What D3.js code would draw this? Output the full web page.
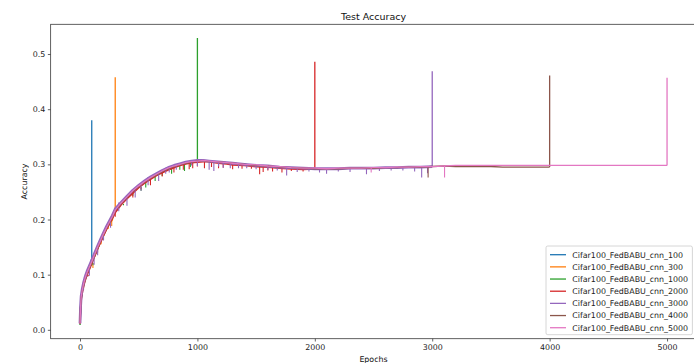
<!DOCTYPE html>
<html>
<head>
<meta charset="utf-8">
<script src="https://cdn.jsdelivr.net/npm/d3@7"></script>
<style>
  html, body { margin: 0; padding: 0; background: #fff; }
  svg { display: block; font-family: "DejaVu Sans", sans-serif; }
</style>
</head>
<body>
<div id="chart"></div>
<script>
// sampled epochs shared by every run
const epochs = [0, 5, 10, 20, 30, 40, 50, 60, 80, 100,
  125, 150, 175, 200, 225, 250, 275, 300,
  350, 400, 450, 500, 550, 600, 650, 700, 750, 800, 850, 900, 950, 1000, 1050, 1100, 1150, 1200, 1250, 1300,
  1400, 1500, 1600, 1700, 1800, 1900, 2000, 2100, 2200, 2300, 2400, 2500, 2600, 2700, 2800, 2900, 3000,
  3100, 3200, 3300, 3400, 3500, 3600, 3700, 3800, 3900, 4000, 4100, 4200, 4300, 4400, 4500, 4600, 4700, 4800, 4900, 5000];

const runNames = ["Cifar100_FedBABU_cnn_100", "Cifar100_FedBABU_cnn_300", "Cifar100_FedBABU_cnn_1000",
  "Cifar100_FedBABU_cnn_2000", "Cifar100_FedBABU_cnn_3000", "Cifar100_FedBABU_cnn_4000", "Cifar100_FedBABU_cnn_5000"];
const runEpochs = [100, 300, 1000, 2000, 3000, 4000, 5000];
const colors = ["#1f77b4", "#ff7f0e", "#2ca02c", "#d62728", "#9467bd", "#8c564b", "#e377c2"];
// the 3000 run jitters every epoch, so it reads as a wider band
const widths = [1.4, 1.4, 1.5, 1.8, 2.8, 1.4, 1.3];

// accuracy at the sampled epochs
const acc100 = [0.010, 0.040, 0.058, 0.072, 0.082, 0.090, 0.097, 0.103, 0.113, 0.129];
const acc300 = [0.012, 0.038, 0.057, 0.071, 0.081, 0.089, 0.096, 0.102, 0.112, 0.121,
  0.134, 0.147, 0.159, 0.171, 0.182, 0.192, 0.199, 0.222];
const acc1000 = [0.009, 0.039, 0.056, 0.070, 0.080, 0.088, 0.095, 0.101, 0.111, 0.121,
  0.134, 0.147, 0.160, 0.172, 0.183, 0.193, 0.203, 0.214,
  0.228, 0.239, 0.249, 0.259, 0.267, 0.274, 0.280, 0.286, 0.291, 0.295, 0.299, 0.302, 0.304, 0.306];
const acc2000 = [0.011, 0.037, 0.055, 0.069, 0.079, 0.087, 0.094, 0.100, 0.110, 0.121,
  0.134, 0.147, 0.159, 0.171, 0.182, 0.192, 0.202, 0.213,
  0.227, 0.238, 0.248, 0.258, 0.266, 0.273, 0.280, 0.285, 0.290, 0.294, 0.298, 0.301, 0.303, 0.304, 0.305, 0.305, 0.303, 0.302, 0.301, 0.299,
  0.298, 0.296, 0.295, 0.293, 0.292, 0.291, 0.292];
const acc3000 = [0.012, 0.043, 0.061, 0.075, 0.085, 0.093, 0.100, 0.106, 0.116, 0.126,
  0.139, 0.152, 0.164, 0.176, 0.187, 0.197, 0.207, 0.219,
  0.231, 0.242, 0.253, 0.262, 0.270, 0.277, 0.283, 0.289, 0.294, 0.298, 0.301, 0.304, 0.306, 0.307, 0.307, 0.306, 0.305, 0.304, 0.303, 0.302,
  0.300, 0.298, 0.297, 0.295, 0.294, 0.293, 0.292, 0.292, 0.292, 0.293, 0.293, 0.293, 0.294, 0.294, 0.295, 0.295, 0.296];
const acc4000 = [0.011, 0.041, 0.059, 0.072, 0.082, 0.090, 0.097, 0.103, 0.113, 0.123,
  0.136, 0.149, 0.161, 0.173, 0.184, 0.194, 0.204, 0.216,
  0.229, 0.240, 0.251, 0.260, 0.268, 0.275, 0.281, 0.287, 0.292, 0.296, 0.299, 0.302, 0.304, 0.306, 0.306, 0.305, 0.305, 0.304, 0.303, 0.302,
  0.300, 0.298, 0.297, 0.295, 0.294, 0.293, 0.292, 0.292, 0.292, 0.293, 0.293, 0.293, 0.294, 0.294, 0.295, 0.295, 0.296,
  0.297, 0.296, 0.296, 0.296, 0.296, 0.295, 0.295, 0.295, 0.295, 0.295];
const acc5000 = [0.011, 0.042, 0.060, 0.073, 0.083, 0.091, 0.098, 0.104, 0.114, 0.124,
  0.137, 0.150, 0.162, 0.174, 0.185, 0.195, 0.205, 0.217,
  0.230, 0.241, 0.252, 0.261, 0.269, 0.276, 0.282, 0.288, 0.293, 0.297, 0.300, 0.303, 0.305, 0.306, 0.307, 0.306, 0.305, 0.304, 0.303, 0.302,
  0.300, 0.299, 0.297, 0.296, 0.294, 0.293, 0.293, 0.292, 0.293, 0.293, 0.293, 0.294, 0.294, 0.295, 0.295, 0.296, 0.296,
  0.297, 0.298, 0.298, 0.298, 0.298, 0.298, 0.298, 0.298, 0.298, 0.298, 0.298, 0.298, 0.298, 0.298, 0.298, 0.298, 0.298, 0.298, 0.298, 0.298];
const accRuns = [acc100, acc300, acc1000, acc2000, acc3000, acc4000, acc5000];

// value logged at the last epoch of each run (the tall spike)
const finalAcc = [0.380, 0.458, 0.529, 0.486, 0.469, 0.461, 0.457];

// short downward drops seen along each run: [epoch, accuracy]
const dips100 = [[60, 0.096], [90, 0.112]];
const dips300 = [[110, 0.112], [180, 0.155], [240, 0.183], [270, 0.188]];
const dips1000 = [[110, 0.117], [200, 0.163], [370, 0.226], [450, 0.243], [520, 0.252], [560, 0.258], [640, 0.270],
  [700, 0.279], [780, 0.283], [850, 0.290], [890, 0.288], [940, 0.295]];
const dips2000 = [[30, 0.075], [70, 0.097], [150, 0.140], [300, 0.205], [450, 0.240], [520, 0.255], [600, 0.262],
  [700, 0.278], [800, 0.285], [880, 0.290], [930, 0.291], [960, 0.293], [1000, 0.296], [1060, 0.293], [1120, 0.295],
  [1180, 0.293], [1220, 0.294], [1300, 0.291], [1380, 0.292], [1460, 0.292], [1530, 0.282], [1560, 0.286],
  [1600, 0.289], [1640, 0.287], [1720, 0.285], [1800, 0.288], [1900, 0.287]];
const dips3000 = [[30, 0.072], [80, 0.098], [120, 0.118], [150, 0.135], [200, 0.162], [260, 0.185], [330, 0.215],
  [400, 0.225], [470, 0.240], [520, 0.252], [580, 0.262], [670, 0.270], [730, 0.283], [760, 0.285], [820, 0.290],
  [950, 0.298], [1000, 0.297], [1100, 0.290], [1140, 0.288], [1180, 0.296], [1220, 0.294], [1280, 0.293],
  [1350, 0.293], [1420, 0.293], [1500, 0.291], [1600, 0.290], [1680, 0.289], [1760, 0.280], [1850, 0.286],
  [1950, 0.287], [2040, 0.285], [2100, 0.283], [2200, 0.287], [2300, 0.286], [2440, 0.282], [2550, 0.288],
  [2650, 0.289], [2750, 0.289], [2850, 0.287], [2910, 0.276], [2960, 0.284]];
const dips4000 = [[2965, 0.276]];
const dips5000 = [[2480, 0.285], [3105, 0.276]];
const dipRuns = [dips100, dips300, dips1000, dips2000, dips3000, dips4000, dips5000];

const xTicks = [0, 1000, 2000, 3000, 4000, 5000];
const yTicks = [0.0, 0.1, 0.2, 0.3, 0.4, 0.5];

const W = 694, H = 363;
const axLeft = 50.65, axRight = 696.4, axTop = 24.3, axBottom = 338.7;

const svg = d3.select("#chart").append("svg")
  .attr("width", W)
  .attr("height", H);

const x = d3.scaleLinear().domain([-250, 5250]).range([axLeft, axRight]);
const y = d3.scaleLinear().domain([-0.0161, 0.5539]).range([axBottom, axTop]);

svg.append("clipPath").attr("id", "plot-area")
  .append("rect")
  .attr("x", axLeft).attr("y", axTop)
  .attr("width", axRight - axLeft).attr("height", axBottom - axTop);

const plot = svg.append("g").attr("clip-path", "url(#plot-area)");

const line = d3.line()
  .x(d => x(d[0]))
  .y(d => y(d[1]));

accRuns.forEach((vals, i) => {
  const pts = vals.map((v, j) => [epochs[j], v]);
  const g = plot.append("g");

  // drops go from the nearest logged sample down to the low value
  dipRuns[i].forEach(d => {
    const j = d3.minIndex(vals, (v, k) => Math.abs(epochs[k] - d[0]));
    g.append("line")
      .attr("x1", x(d[0])).attr("x2", x(d[0]))
      .attr("y1", y(vals[j])).attr("y2", y(d[1]))
      .attr("stroke", colors[i])
      .attr("stroke-width", 1.1);
  });

  g.append("path")
    .datum(pts)
    .attr("fill", "none")
    .attr("stroke", colors[i])
    .attr("stroke-width", widths[i])
    .attr("stroke-linejoin", "round")
    .attr("d", line);

  // final epoch jump
  g.append("line")
    .attr("x1", x(runEpochs[i])).attr("x2", x(runEpochs[i]))
    .attr("y1", y(vals[vals.length - 1])).attr("y2", y(finalAcc[i]))
    .attr("stroke", colors[i])
    .attr("stroke-width", 1.3);
});

// axes frame
svg.append("rect")
  .attr("x", axLeft).attr("y", axTop)
  .attr("width", axRight - axLeft).attr("height", axBottom - axTop)
  .attr("fill", "none")
  .attr("stroke", "#3a3a3a")
  .attr("stroke-width", 0.8);

const xAxis = svg.append("g")
  .attr("transform", `translate(0,${axBottom})`)
  .call(d3.axisBottom(x).tickValues(xTicks).tickSize(2.8).tickPadding(3).tickFormat(d3.format("d")));
const yAxis = svg.append("g")
  .attr("transform", `translate(${axLeft},0)`)
  .call(d3.axisLeft(y).tickValues(yTicks).tickSize(2.8).tickPadding(2.6).tickFormat(d3.format(".1f")));

[xAxis, yAxis].forEach(a => {
  a.select(".domain").remove();
  a.selectAll(".tick line").attr("stroke", "#3a3a3a").attr("stroke-width", 0.8);
  a.selectAll(".tick text")
    .attr("fill", "#222")
    .style("font-family", "'DejaVu Sans', sans-serif")
    .style("font-size", "7.9px");
});

svg.append("text")
  .attr("x", (axLeft + axRight) / 2)
  .attr("y", 19.8)
  .attr("text-anchor", "middle")
  .style("font-size", "9.5px")
  .attr("fill", "#111")
  .text("Test Accuracy");

svg.append("text")
  .attr("x", (axLeft + axRight) / 2)
  .attr("y", 361.6)
  .attr("text-anchor", "middle")
  .style("font-size", "7.9px")
  .attr("fill", "#111")
  .text("Epochs");

svg.append("text")
  .attr("transform", `translate(26.5,${(axTop + axBottom) / 2}) rotate(-90)`)
  .attr("text-anchor", "middle")
  .style("font-size", "7.9px")
  .attr("fill", "#111")
  .text("Accuracy");

// legend, lower right
const lg = svg.append("g");
lg.append("rect")
  .attr("x", 546).attr("y", 246)
  .attr("width", 146.4).attr("height", 88.7)
  .attr("rx", 1.8)
  .attr("fill", "#fff").attr("fill-opacity", 0.8)
  .attr("stroke", "#cccccc").attr("stroke-width", 0.8);

runNames.forEach((name, i) => {
  const ry = 254.7 + i * 12.17;
  lg.append("line")
    .attr("x1", 550).attr("x2", 566)
    .attr("y1", ry).attr("y2", ry)
    .attr("stroke", colors[i]).attr("stroke-width", 1.3);
  lg.append("text")
    .attr("x", 572.3).attr("y", ry + 2.8)
    .style("font-size", "7.9px")
    .attr("fill", "#222")
    .text(name);
});
</script>
</body>
</html>
